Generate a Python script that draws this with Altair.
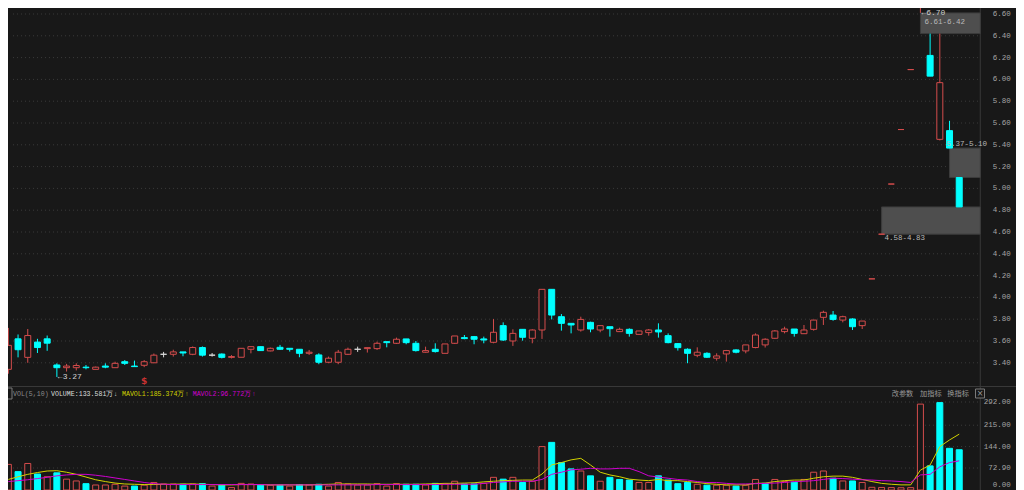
import altair as alt
import pandas as pd

# ---------------- data ----------------
OPEN = [3.34, 3.62, 3.45, 3.59, 3.62, 3.38, 3.355, 3.355, 3.36, 3.34,
        3.37, 3.355, 3.41, 3.37, 3.377, 3.40, 3.478, 3.478, 3.50, 3.478,
        3.54, 3.47, 3.48, 3.45, 3.451, 3.524, 3.548, 3.509, 3.542, 3.533,
        3.524, 3.487, 3.472, 3.405, 3.405, 3.478, 3.524, 3.530, 3.530, 3.594,
        3.579, 3.619, 3.579, 3.497, 3.524, 3.487, 3.579, 3.631, 3.640, 3.619,
        3.588, 3.741, 3.600, 3.707, 3.625, 3.701, 4.074, 3.823, 3.762, 3.701,
        3.771, 3.701, 3.731, 3.686, 3.707, 3.661, 3.677, 3.701, 3.649, 3.576,
        3.524, 3.469, 3.487, 3.442, 3.481, 3.518, 3.509, 3.540, 3.564, 3.625,
        3.686, 3.710, 3.667, 3.707, 3.817, 3.838, 3.792, 3.802, 3.741, 4.17,
        4.58, 5.04, 5.54, 6.09, 6.70, 6.22, 5.45, 5.53, 5.10]
HIGH = [3.72, 3.66, 3.71, 3.62, 3.65, 3.395, 3.39, 3.395, 3.38, 3.365,
        3.395, 3.41, 3.425, 3.42, 3.425, 3.485, 3.50, 3.52, 3.50, 3.55,
        3.55, 3.49, 3.486, 3.47, 3.533, 3.548, 3.548, 3.54, 3.564, 3.533,
        3.524, 3.518, 3.487, 3.457, 3.518, 3.539, 3.548, 3.539, 3.594, 3.594,
        3.631, 3.619, 3.600, 3.548, 3.579, 3.573, 3.646, 3.655, 3.646, 3.640,
        3.801, 3.771, 3.707, 3.707, 3.707, 4.074, 4.074, 3.847, 3.762, 3.823,
        3.777, 3.741, 3.731, 3.722, 3.716, 3.692, 3.710, 3.762, 3.670, 3.579,
        3.533, 3.542, 3.497, 3.487, 3.518, 3.524, 3.564, 3.670, 3.625, 3.701,
        3.731, 3.710, 3.747, 3.792, 3.878, 3.875, 3.832, 3.808, 3.783, 4.17,
        4.58, 5.04, 5.54, 6.09, 6.70, 6.42, 6.42, 5.62, 5.10]
LOW = [3.30, 3.45, 3.40, 3.49, 3.51, 3.27, 3.32, 3.33, 3.34, 3.34,
       3.35, 3.355, 3.38, 3.365, 3.36, 3.40, 3.45, 3.457, 3.46, 3.47,
       3.457, 3.457, 3.44, 3.44, 3.451, 3.487, 3.51, 3.505, 3.518, 3.503,
       3.451, 3.472, 3.387, 3.396, 3.387, 3.472, 3.500, 3.494, 3.518, 3.542,
       3.573, 3.570, 3.503, 3.494, 3.494, 3.487, 3.573, 3.616, 3.570, 3.579,
       3.579, 3.600, 3.555, 3.603, 3.579, 3.619, 3.798, 3.695, 3.670, 3.686,
       3.680, 3.680, 3.640, 3.683, 3.640, 3.655, 3.649, 3.631, 3.579, 3.512,
       3.396, 3.451, 3.445, 3.420, 3.411, 3.487, 3.487, 3.533, 3.540, 3.619,
       3.670, 3.640, 3.667, 3.695, 3.747, 3.786, 3.771, 3.701, 3.710, 4.17,
       4.58, 5.04, 5.54, 6.09, 6.61, 6.03, 5.44, 5.37, 4.83]
CLOSE = [3.56, 3.52, 3.65, 3.54, 3.58, 3.355, 3.37, 3.375, 3.355, 3.36,
         3.36, 3.395, 3.395, 3.365, 3.41, 3.47, 3.478, 3.50, 3.49, 3.54,
         3.47, 3.47, 3.45, 3.457, 3.533, 3.548, 3.512, 3.533, 3.524, 3.524,
         3.487, 3.497, 3.405, 3.442, 3.497, 3.524, 3.524, 3.539, 3.579, 3.585,
         3.616, 3.585, 3.512, 3.512, 3.503, 3.573, 3.646, 3.622, 3.616, 3.609,
         3.680, 3.609, 3.670, 3.634, 3.701, 4.074, 3.838, 3.762, 3.747, 3.798,
         3.710, 3.741, 3.713, 3.707, 3.670, 3.692, 3.701, 3.683, 3.585, 3.539,
         3.487, 3.497, 3.451, 3.463, 3.512, 3.497, 3.564, 3.655, 3.616, 3.692,
         3.710, 3.670, 3.701, 3.792, 3.863, 3.798, 3.823, 3.731, 3.783, 4.17,
         4.58, 5.04, 5.54, 6.09, 6.70, 6.03, 5.97, 5.37, 4.83]
CANDLE_DIR = ("u d u d d d u u d u "
              "d u d d u u f u d u "
              "d f d u u u d u d d "
              "d u d u u u f u u d "
              "u d d u d u u d d d "
              "u d u d u u d d d u "
              "d u d u d u u d d d "
              "d u d u u d u u u u "
              "u d u u u d u d u u "
              "u u u u u d u d d").split()
VOLUME = [85, 61, 88, 53, 44, 57, 36, 30, 21, 16.6,
          16.6, 19, 13, 13, 16, 25, 20, 20, 19, 20,
          21, 13, 16, 8, 22, 20, 16, 16, 16, 13,
          18, 16.6, 19, 13, 25, 20, 16.6, 16.6, 21, 13,
          21, 19, 19, 16.6, 22, 20, 29, 20, 20, 22,
          42, 36, 42, 25, 29, 144, 158, 91, 70, 63,
          47, 29, 42, 35, 33, 25, 25, 47, 33, 21,
          25, 19, 16, 16, 16, 13, 16, 35, 22, 35,
          28, 26, 35, 59, 63, 39, 30, 30, 25, 9,
          8.5, 8, 7.5, 7.85, 285, 80, 290, 138.3, 133.581]
VOL_DIR = ("u d u d u d u u d u "
           "u u u d u u u u d u "
           "d u d u u u d u d u "
           "d u d u u u u u u u "
           "u d d u d u u d d u "
           "u d u d u u d d d u "
           "d u d d d u u d d d "
           "d u d u u d u u d u "
           "u d u u u d u d u u "
           "u u u u u d d d d").split()
MAVOL1 = [35, 44, 52, 58, 63, 64, 59, 52, 43, 34,
          28, 23, 20, 19, 18, 18, 19, 19, 20, 20,
          19, 18, 17, 17, 18, 18, 18, 17, 17, 17,
          17, 17, 18, 19, 20, 20, 20, 20, 19, 19,
          19, 19, 19, 20, 21, 22, 22, 23, 24, 27,
          29, 31, 32, 33, 33, 53, 83, 91, 100, 105,
          83, 59, 50, 44, 36, 33, 31, 35, 31, 31,
          28, 25, 21, 19, 17, 17, 17, 22, 23, 28,
          31, 33, 33, 39, 44, 46, 46, 42, 35, 28,
          22, 19, 17, 17, 66, 83, 144, 166, 185.374]
MAVOL2 = [28, 31, 34, 38, 42, 47, 50, 52, 52, 49,
          45, 40, 35, 30, 25, 21, 19, 18, 18, 18,
          18, 18, 18, 18, 18, 18, 18, 17, 17, 17,
          17, 17, 17, 17, 17, 17, 17, 17, 18, 18,
          18, 18, 18, 18, 18, 19, 19, 19, 19, 22,
          25, 27, 29, 29, 29, 35, 52, 59, 67, 69,
          72, 70, 70, 72, 72, 61, 47, 43, 39, 35,
          33, 28, 25, 25, 22, 20, 20, 21, 22, 23,
          25, 28, 29, 31, 35, 39, 38, 36, 34, 33,
          31, 30, 28, 25, 50, 52, 77, 91, 96.772]

PRICE_TICKS = [3.40, 3.60, 3.80, 4.00, 4.20, 4.40, 4.60, 4.80, 5.00,
               5.20, 5.40, 5.60, 5.80, 6.00, 6.20, 6.40, 6.60]
PRICE_LABELS = ["3.40", "3.60", "3.80", "4.00", "4.20", "4.40", "4.60", "4.80", "5.00",
                "5.20", "5.40", "5.60", "5.80", "6.00", "6.20", "6.40", "6.60"]
VOL_TICKS = [292.0, 215.0, 144.0, 72.9]
VOL_LABELS = ["292.00", "215.00", "144.00", "72.90"]
VOL_ZERO = [0.0]
VOL_ZERO_LABEL = ["0.00"]

GAP_START = [94, 97, 90]
GAP_HIGH = [6.61, 5.37, 4.83]
GAP_LOW = [6.42, 5.10, 4.58]
GAP_TEXT = ["6.61-6.42", "5.37-5.10", "4.58-4.83"]

EXT_K = [5, 94]
EXT_P = [3.27, 6.70]
EXT_TEXT = ["←3.27", "←6.70"]

# ---------------- style / layout ----------------
BG = "#181818"
RED = "#d44c4c"
CYAN = "#00ffff"
FLAT = "#d8d8d8"
YELLOW = "#d2d200"
MAGENTA = "#d000d0"
GRID = "#3a3a3a"
LINE = "#383838"
LABEL = "#a4a4a4"
MONO = "Liberation Mono"
CJK = "Noto Sans CJK SC"

W, H = 1008, 482
X_DOM = [0.4796, 0.4796 + W / 9.8]
X_AXIS = 100.17
X_LABEL = 103.3

xs = alt.Scale(domain=X_DOM, range=[0, W], nice=False, zero=False)
ps = alt.Scale(domain=[3.1963, 6.655], range=[377, 0], nice=False, zero=False)
vs = alt.Scale(domain=[0, 292], range=[482, 394], nice=False, zero=False)

dirs = ["u", "d", "f"]
stroke_enc = alt.Stroke("d:N", scale=alt.Scale(domain=dirs, range=[RED, CYAN, FLAT]), legend=None)
fill_enc = alt.Fill("d:N", scale=alt.Scale(domain=dirs, range=[BG, CYAN, FLAT]), legend=None)


def X(field):
    return alt.X(field, type="quantitative", scale=xs, axis=None)


def XD(v):
    return alt.XDatum(v, type="quantitative", scale=xs, axis=None)


def PY(field):
    return alt.Y(field, type="quantitative", scale=ps, axis=None)


def VY(field):
    return alt.Y(field, type="quantitative", scale=vs, axis=None, stack=None)


k = list(range(len(OPEN)))
candles = pd.DataFrame(dict(k=k, o=OPEN, h=HIGH, l=LOW, c=CLOSE, d=CANDLE_DIR))
vol = pd.DataFrame(dict(k=k, v=VOLUME, d=VOL_DIR, ma1=MAVOL1, ma2=MAVOL2))
gaps = pd.DataFrame(dict(s=GAP_START, hi=GAP_HIGH, lo=GAP_LOW, t=GAP_TEXT))
pgrid = pd.DataFrame(dict(p=PRICE_TICKS, t=PRICE_LABELS))
vgrid = pd.DataFrame(dict(v=VOL_TICKS, t=VOL_LABELS))
vzero = pd.DataFrame(dict(v=VOL_ZERO, t=VOL_ZERO_LABEL))
ext = pd.DataFrame(dict(k=EXT_K, p=EXT_P, t=EXT_TEXT))
one = pd.DataFrame(dict(n=[0]))

layers = []

# grid lines
layers.append(alt.Chart(pgrid).mark_rule(color=GRID, strokeDash=[1, 3], strokeWidth=1).encode(
    x=XD(X_DOM[0]), x2=alt.X2Datum(X_AXIS), y=PY("p")))
layers.append(alt.Chart(vgrid).mark_rule(color=GRID, strokeDash=[1, 3], strokeWidth=1).encode(
    x=XD(X_DOM[0]), x2=alt.X2Datum(X_AXIS), y=VY("v")))

# frame lines
layers.append(alt.Chart(pd.DataFrame(dict(x=[X_AXIS]))).mark_rule(color=LINE, strokeWidth=1).encode(
    x=X("x"), y=alt.value(0), y2=alt.value(H)))
layers.append(alt.Chart(one).mark_rule(color=LINE, strokeWidth=1).encode(
    x=alt.value(0), x2=alt.value(W), y=alt.value(378.5)))

# gap boxes
layers.append(alt.Chart(gaps).mark_rect(fill="#4e4e4e", stroke="#3c3c3c", strokeWidth=1).encode(
    x=X("s"), x2=alt.X2Datum(X_AXIS), y=PY("lo"), y2="hi"))

# candles
layers.append(alt.Chart(candles).mark_rule(strokeWidth=1).encode(
    x=X("k"), y=PY("l"), y2="h", stroke=stroke_enc))
layers.append(alt.Chart(candles).mark_bar(size=6, strokeWidth=1).encode(
    x=X("k"), y=PY("o"), y2="c", fill=fill_enc, stroke=stroke_enc))

# volume bars and averages
layers.append(alt.Chart(vol).mark_bar(size=6, strokeWidth=1).encode(
    x=X("k"), y=VY("v"), fill=fill_enc, stroke=stroke_enc))
layers.append(alt.Chart(vol).mark_line(color=YELLOW, strokeWidth=1).encode(x=X("k"), y=VY("ma1")))
layers.append(alt.Chart(vol).mark_line(color=MAGENTA, strokeWidth=1).encode(x=X("k"), y=VY("ma2")))

# axis labels
layers.append(alt.Chart(pgrid).mark_text(align="right", baseline="middle", font=MONO, fontSize=7.5,
                                         color=LABEL).encode(x=XD(X_LABEL), y=PY("p"), text="t:N"))
layers.append(alt.Chart(vgrid).mark_text(align="right", baseline="middle", font=MONO, fontSize=7.5,
                                         color=LABEL).encode(x=XD(X_LABEL), y=VY("v"), text="t:N"))
layers.append(alt.Chart(vzero).mark_text(align="right", baseline="bottom", font=MONO, fontSize=7.5,
                                         color=LABEL, dy=-1).encode(x=XD(X_LABEL), y=VY("v"), text="t:N"))

# annotations (extreme prices; the top one nudged down into the visible area)
ext_dy = [0, 5.5]
ext_base = ["middle", "top"]
for i in range(len(EXT_TEXT)):
    layers.append(alt.Chart(ext.iloc[[i]]).mark_text(
        align="left", baseline=ext_base[i], font=MONO, fontSize=8, color="#d0d0d0", dx=1,
        dy=ext_dy[i]).encode(x=X("k"), y=PY("p"), text="t:N"))
gap_dx = [4, -3, 3]
gap_dy = [5.5, 0, 0]
gap_base = ["top", "bottom", "top"]
gap_ref = ["hi", "hi", "lo"]
for i in range(len(GAP_TEXT)):
    layers.append(alt.Chart(gaps.iloc[[i]]).mark_text(
        align="left", baseline=gap_base[i], font=MONO, fontSize=7.5, color="#b8b8b8",
        dx=gap_dx[i], dy=gap_dy[i]).encode(x=X("s"), y=PY(gap_ref[i]), text="t:N"))
layers.append(alt.Chart(pd.DataFrame(dict(k=[14], p=[3.36], t=["$"]))).mark_text(
    align="center", baseline="middle", font="DejaVu Sans", fontSize=9, fontWeight="bold",
    color="#c83232", dy=14).encode(x=X("k"), y=PY("p"), text="t:N"))

# indicator header
header = [
    ("VOL(5,10)", 5, "#8c8c8c", MONO, "left"),
    ("VOLUME:133.581万", 43, "#dcdcdc", MONO, "left"),
    ("↓", 107.7, "#c8c8c8", MONO, "center"),
    ("MAVOL1:185.374万", 114, YELLOW, MONO, "left"),
    ("↑", 179, YELLOW, MONO, "center"),
    ("MAVOL2:96.772万", 184.7, MAGENTA, MONO, "left"),
    ("↑", 246, MAGENTA, MONO, "center"),
    ("改参数", 883.7, "#9a9a9a", CJK, "left"),
    ("加指标", 912, "#9a9a9a", CJK, "left"),
    ("换指标", 939.3, "#9a9a9a", CJK, "left"),
]
for txt, px, col, fnt, al in header:
    fs = 7.2 if fnt == CJK else 6.6
    layers.append(alt.Chart(pd.DataFrame(dict(t=[txt]))).mark_text(
        align=al, baseline="middle", font=fnt, fontSize=fs, color=col).encode(
        x=alt.value(px), y=alt.value(385.5), text="t:N"))
layers.append(alt.Chart(one).mark_rect(fill=BG, stroke="#7a7a7a", strokeWidth=1).encode(
    x=alt.value(967.5), x2=alt.value(976.5), y=alt.value(381), y2=alt.value(390)))
layers.append(alt.Chart(pd.DataFrame(dict(t=["×"]))).mark_text(
    align="center", baseline="middle", font="DejaVu Sans", fontSize=8, color="#9a9a9a").encode(
    x=alt.value(972), y=alt.value(385.5), text="t:N"))
layers.append(alt.Chart(one).mark_rect(fill=BG, stroke="#7a7a7a", strokeWidth=1).encode(
    x=alt.value(-5), x2=alt.value(4), y=alt.value(380), y2=alt.value(391)))

chart = alt.layer(*layers).resolve_scale(y="independent").properties(
    width=W, height=H, padding=0, autosize=alt.AutoSizeParams(type="none"),
    background=BG,
).configure_view(stroke=None)

chart.save("out.html", embed_options={"renderer": "svg", "actions": False})
